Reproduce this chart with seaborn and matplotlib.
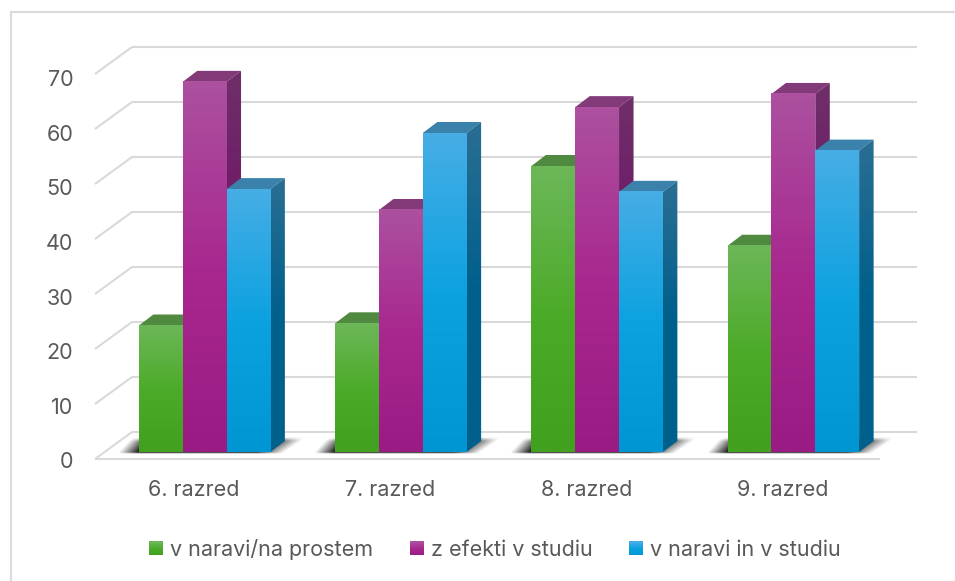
import numpy as np
import pandas as pd
import matplotlib
matplotlib.use('Agg')
import matplotlib.pyplot as plt
import seaborn as sns
from matplotlib.legend_handler import HandlerBase
from matplotlib.patches import Polygon, Rectangle
from matplotlib.transforms import Affine2D
from matplotlib.lines import Line2D

# Data
razredi = ['6. razred', '7. razred', '8. razred', '9. razred']
serije = ['v naravi/na prostem', 'z efekti v studiu', 'v naravi in v studiu']
v_naravi = [23.0, 23.4, 52.0, 37.5]
z_efekti = [67.3, 44.0, 62.7, 65.1]
v_obeh = [47.8, 58.0, 47.3, 54.8]
y_ticks = [0, 10, 20, 30, 40, 50, 60, 70]

# Barve: (zgoraj, sredina, spodaj, vrh, stranica zgoraj, stranica spodaj)
barve = {
    serije[0]: ('#6cb758', '#4dab2a', '#42a01f', '#508a40', '#47802f', '#357a17'),
    serije[1]: ('#ac509f', '#a8288f', '#9b1b85', '#823a78', '#6e2f68', '#701368'),
    serije[2]: ('#46ade5', '#0ca2e0', '#0095d3', '#3a82ab', '#2a6e93', '#00608c'),
}
GRID = '#d9d9d9'
TEXT = '#595959'

W, H = 955, 581
LEFT, RIGHT, BASE, TOP = 106.5, 891.5, 452, 67  # px, ravnina stolpcev

sns.set_theme(style='white')
plt.rcParams['font.family'] = ['Inter', 'DejaVu Sans']

df = pd.DataFrame({
    'razred': razredi * 3,
    'serija': np.repeat(serije, 4),
    'delez': v_naravi + z_efekti + v_obeh,
})

fig = plt.figure(figsize=(W / 100, H / 100), dpi=100)
ax = fig.add_axes([LEFT / W, 1 - BASE / H, (RIGHT - LEFT) / W, (BASE - TOP) / H])
ax.patch.set_alpha(0)

sns.barplot(data=df, x='razred', y='delez', hue='serija', hue_order=serije,
            palette={s: barve[s][1] for s in serije}, width=0.67, gap=0,
            saturation=1, errorbar=None, legend=False, linewidth=0, ax=ax)

ax.set_xlim(-0.5, 3.5)
ax.set_ylim(0, 70)
px_x = (RIGHT - LEFT) / 4
px_y = (BASE - TOP) / 70


def dx(px):
    return px / px_x


def dy(px):
    return px / px_y


def to_x(px):
    return -0.5 + (px - LEFT) / px_x


def gradient(c_top, c_mid, c_bot):
    cmap = matplotlib.colors.LinearSegmentedColormap.from_list('g', [c_top, c_mid, c_bot])
    return cmap(np.linspace(0, 1, 64))[:, None, :3]


# Stene in mreza
for v in y_ticks:
    ax.plot([to_x(95), to_x(132)], [v - dy(7), v + dy(20)], color=GRID, lw=1.5,
            clip_on=False, zorder=1, solid_capstyle='butt')
    ax.plot([to_x(132), to_x(917)], [v + dy(20), v + dy(20)], color=GRID, lw=1.5,
            clip_on=False, zorder=1, solid_capstyle='butt')
ax.plot([to_x(95), to_x(880)], [-dy(7), -dy(7)], color=GRID, lw=1.5,
        clip_on=False, zorder=1, solid_capstyle='butt')

# Stolpci: vrh, stranica, gradient spredaj
DX, DY = dx(14.5), dy(11)
for i, (serija, cont) in enumerate(zip(serije, ax.containers)):
    c = barve[serija]
    z = 10 + i
    for bar in cont:
        x0, x1 = bar.get_x(), bar.get_x() + bar.get_width()
        h = bar.get_height()
        bar.set_zorder(z + 0.5)
        bar.set_clip_on(False)
        ax.add_patch(Polygon([(x0, h), (x1, h), (x1 + DX, h + DY), (x0 + DX, h + DY)],
                             closed=True, fc=c[3], ec='none', zorder=z, clip_on=False))
        ax.imshow(gradient(c[4], c[5], c[5]), extent=[x1, x1 + DX, 0, h + DY], aspect='auto',
                  zorder=z, interpolation='bilinear',
                  clip_path=Polygon([(x1, 0), (x1 + DX, DY), (x1 + DX, h + DY), (x1, h)],
                                    transform=ax.transData))
        ax.imshow(gradient(c[0], c[1], c[2]), extent=[x0, x1, 0, h], aspect='auto',
                  zorder=z + 0.6, interpolation='bilinear')

# Sence na tleh
for k in range(len(razredi)):
    group = [cont[k] for cont in ax.containers]
    x0 = group[0].get_x()
    x1 = group[-1].get_x() + group[-1].get_width()
    span = (x1 - x0) * px_x
    x_px = np.arange(-28, span + 50)
    h_px = np.arange(-1.5, 15.5, 0.5)
    X, Y = np.meshgrid(x_px, h_px)
    Y0 = np.clip(Y, 0, None)
    levo = np.clip((X - Y0 * 0.93 + 21) / 19, 0, 1)
    desno = np.clip((span + 14 + Y0 * 1.5 - X) / 27, 0, 1)
    a = levo * desno * np.clip((15 - Y) / 4, 0, 1) * np.clip((Y + 1.5) / 1.5, 0, 1) * 0.95
    rgba = np.zeros(a.shape + (4,))
    rgba[..., :3] = 0.1
    rgba[..., 3] = a
    ax.imshow(rgba, origin='lower', aspect='auto', zorder=2, clip_on=False, interpolation='bilinear',
              extent=[x0 + dx(x_px[0]), x0 + dx(x_px[-1]), dy(h_px[0]), dy(h_px[-1])])

ax.set_xlim(-0.5, 3.5)
ax.set_ylim(0, 70)
sns.despine(ax=ax, left=True, bottom=True)
ax.set_xlabel('')
ax.set_ylabel('')
ax.grid(False)
ax.set_yticks(y_ticks)
ax.tick_params(axis='both', length=0, labelsize=15.5, labelcolor=TEXT)
ax.tick_params(axis='y', pad=24)
ax.tick_params(axis='x', pad=20.5)
for v, lab in zip(y_ticks, ax.get_yticklabels()):
    lab.set_transform(lab.get_transform() + Affine2D().translate(0, -(8.5 + v / 70 * 2.5)))
for lab in ax.get_xticklabels():
    lab.set_transform(lab.get_transform() + Affine2D().translate(-10.5, 0))

# Okvir (samo levo in zgoraj)
fig.add_artist(Line2D([10.5 / W, 10.5 / W], [0, 1 - 11.5 / H], color='#dcdcdc', lw=1.6))
fig.add_artist(Line2D([10.5 / W, 1], [1 - 11.5 / H, 1 - 11.5 / H], color='#dcdcdc', lw=1.6))


# Legenda z gradientnimi kvadratki
class GradHandler(HandlerBase):
    def create_artists(self, legend, orig, xd, yd, width, height, fontsize, trans):
        colors = gradient(*orig.get_gid().split(','))[:, 0, :]
        size = 10
        y_start = -yd + (height - size) / 2
        out = []
        n = 20
        for j in range(n):
            col = colors[int((n - 1 - j) / (n - 1) * (len(colors) - 1))]
            out.append(Rectangle((-xd, y_start + size * j / n), size, size / n + 0.1,
                                 fc=col, ec='none', transform=trans))
        return out


handles = []
for s in serije:
    r = Rectangle((0, 0), 1, 1)
    r.set_gid(','.join(barve[s][:3]))
    handles.append(r)
leg = fig.legend(handles, serije, ncol=3, frameon=False, fontsize=15.5,
                 labelcolor=TEXT, loc='center', bbox_to_anchor=(495 / W, 1 - 549.5 / H),
                 handler_map={Rectangle: GradHandler()}, handlelength=0.65,
                 handletextpad=0.3, columnspacing=1.72)

fig.savefig('out.png', dpi=100)
